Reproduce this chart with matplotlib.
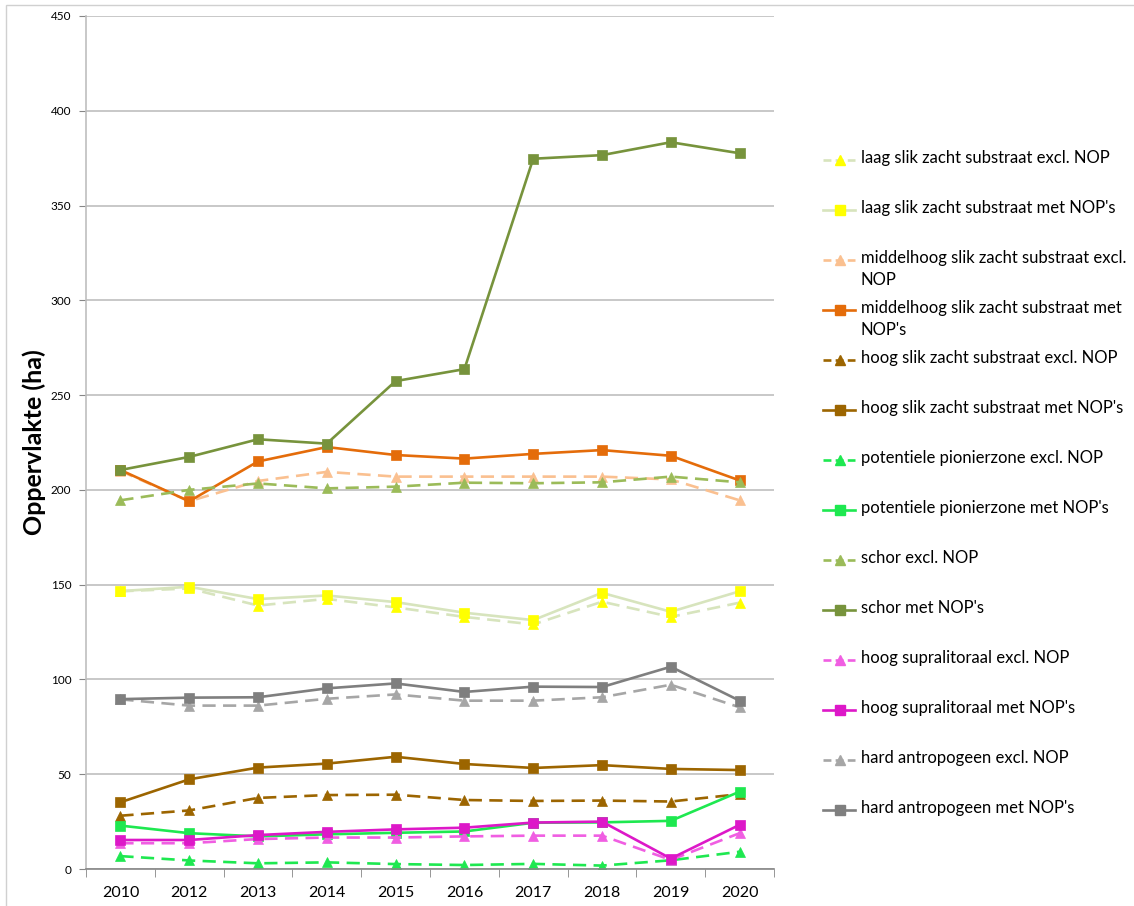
import matplotlib.pyplot as plt
from matplotlib.lines import Line2D
from matplotlib.patches import Rectangle
import numpy as np

plt.rcParams['font.family'] = ['Lato', 'DejaVu Sans']

# Data
years = ['2010', '2012', '2013', '2014', '2015', '2016', '2017', '2018', '2019', '2020']

laag_excl = [146.5, 148.0, 139.0, 142.5, 138.0, 133.0, 129.0, 141.0, 133.0, 140.5]
laag_met = [146.6, 148.9, 142.4, 144.3, 140.8, 135.2, 131.3, 145.7, 135.7, 146.5]
middel_excl = [210.0, 194.0, 204.7, 209.5, 207.0, 207.0, 207.0, 207.0, 205.5, 194.5]
middel_met = [210.5, 194.0, 215.0, 222.6, 218.4, 216.5, 219.0, 221.0, 218.0, 205.0]
hoogslik_excl = [28.1, 30.9, 37.5, 39.0, 39.2, 36.4, 35.9, 36.1, 35.6, 39.5]
hoogslik_met = [35.2, 47.3, 53.5, 55.6, 59.2, 55.4, 53.3, 54.8, 52.8, 52.2]
pionier_excl = [6.8, 4.5, 3.0, 3.5, 2.6, 2.1, 2.7, 1.8, 4.6, 9.1]
pionier_met = [22.9, 18.9, 17.2, 18.3, 19.1, 19.8, 24.4, 24.6, 25.4, 40.8]
schor_excl = [194.5, 200.0, 203.4, 200.8, 201.7, 203.8, 203.5, 204.0, 207.0, 204.0]
schor_met = [210.5, 217.4, 226.7, 224.4, 257.4, 263.7, 374.7, 376.6, 383.4, 377.6]
supra_excl = [13.6, 13.6, 15.8, 16.6, 16.6, 17.2, 17.6, 17.6, 4.8, 18.9]
supra_met = [15.3, 15.3, 17.9, 19.6, 20.9, 21.8, 24.5, 25.0, 5.5, 23.3]
hard_excl = [89.5, 86.2, 86.2, 89.8, 92.1, 88.8, 88.8, 90.6, 97.2, 85.3]
hard_met = [89.6, 90.4, 90.6, 95.3, 97.9, 93.4, 96.2, 96.0, 106.7, 88.8]

series = [
    ("laag slik zacht substraat excl. NOP", laag_excl, '#d7e4bd', '#ffff00', '^', True),
    ("laag slik zacht substraat met NOP's", laag_met, '#d7e4bd', '#ffff00', 's', False),
    ("middelhoog slik zacht substraat excl.\nNOP", middel_excl, '#fac090', '#fac090', '^', True),
    ("middelhoog slik zacht substraat met\nNOP's", middel_met, '#e46c0a', '#e46c0a', 's', False),
    ("hoog slik zacht substraat excl. NOP", hoogslik_excl, '#9c6500', '#9c6500', '^', True),
    ("hoog slik zacht substraat met NOP's", hoogslik_met, '#9c6500', '#9c6500', 's', False),
    ("potentiele pionierzone excl. NOP", pionier_excl, '#1ee850', '#1ee850', '^', True),
    ("potentiele pionierzone met NOP's", pionier_met, '#1ee850', '#1ee850', 's', False),
    ("schor excl. NOP", schor_excl, '#9bbb59', '#9bbb59', '^', True),
    ("schor met NOP's", schor_met, '#77933c', '#77933c', 's', False),
    ("hoog supralitoraal excl. NOP", supra_excl, '#f05ee2', '#f05ee2', '^', True),
    ("hoog supralitoraal met NOP's", supra_met, '#dd18c8', '#dd18c8', 's', False),
    ("hard antropogeen excl. NOP", hard_excl, '#a6a6a6', '#a6a6a6', '^', True),
    ("hard antropogeen met NOP's", hard_met, '#7f7f7f', '#7f7f7f', 's', False),
]

W, H = 1134, 906
fig = plt.figure(figsize=(W / 100, H / 100), dpi=100)
ax = fig.add_axes([86 / W, 37 / H, (774 - 86) / W, (869 - 16) / H])

x = np.arange(len(years))
for label, vals, lc, mc, mk, dashed in series:
    ls = (0, (5, 2.8)) if dashed else '-'
    ax.plot(x, vals, color=lc, linestyle=ls, linewidth=1.9,
            marker=mk, markersize=7 if mk == 's' else 7.5,
            markerfacecolor=mc, markeredgecolor=mc, markeredgewidth=0.5)

ax.set_xlim(-0.5, len(years) - 0.5)
ax.set_ylim(0, 450)
ax.set_yticks(np.arange(0, 451, 50))
ax.yaxis.grid(True, color='#bfbfbf', linewidth=1.2)
ax.set_axisbelow(True)
ax.set_xticks(x)
ax.set_xticklabels(years, fontsize=11.5)
ax.set_xticks(np.arange(-0.5, len(years), 1), minor=True)
ax.tick_params(axis='x', which='major', length=0, pad=12)
ax.tick_params(axis='x', which='minor', length=6, color='#868686', direction='out')
ax.tick_params(axis='y', length=5, color='#868686', labelsize=8.5, pad=5.5)
for s in ['top', 'right']:
    ax.spines[s].set_visible(False)
ax.spines['left'].set_color('#bfbfbf')
ax.spines['bottom'].set_color('#868686')
ax.spines['left'].set_linewidth(1.2)
ax.spines['bottom'].set_linewidth(1.2)
ax.set_ylabel('Oppervlakte (ha)', fontsize=18, fontweight='bold')
ax.yaxis.set_label_coords(-40 / 688, 0.5)

# Legend drawn as Excel lays it out: fixed slots of 50 px
for i, (label, vals, lc, mc, mk, dashed) in enumerate(series):
    yp = 1 - (160 + 50 * i) / H
    ls = (0, (3, 1.6)) if dashed else '-'
    fig.add_artist(Line2D([823 / W, 855 / W], [yp, yp], transform=fig.transFigure,
                          color=lc, linewidth=1.9, linestyle=ls))
    fig.add_artist(Line2D([840 / W], [yp], transform=fig.transFigure, marker=mk,
                          markersize=6.5, color=mc, linestyle='none'))
    fig.text(861 / W, yp + 10 / H, label, fontsize=12, va='top', ha='left',
             linespacing=1.45)

# light chart frame
fig.add_artist(Rectangle((6 / W, -0.01), 1.1, (H - 5) / H + 0.01,
                         transform=fig.transFigure, fill=False,
                         edgecolor='#d0d0d0', linewidth=1))

fig.savefig('out.png', dpi=100)
